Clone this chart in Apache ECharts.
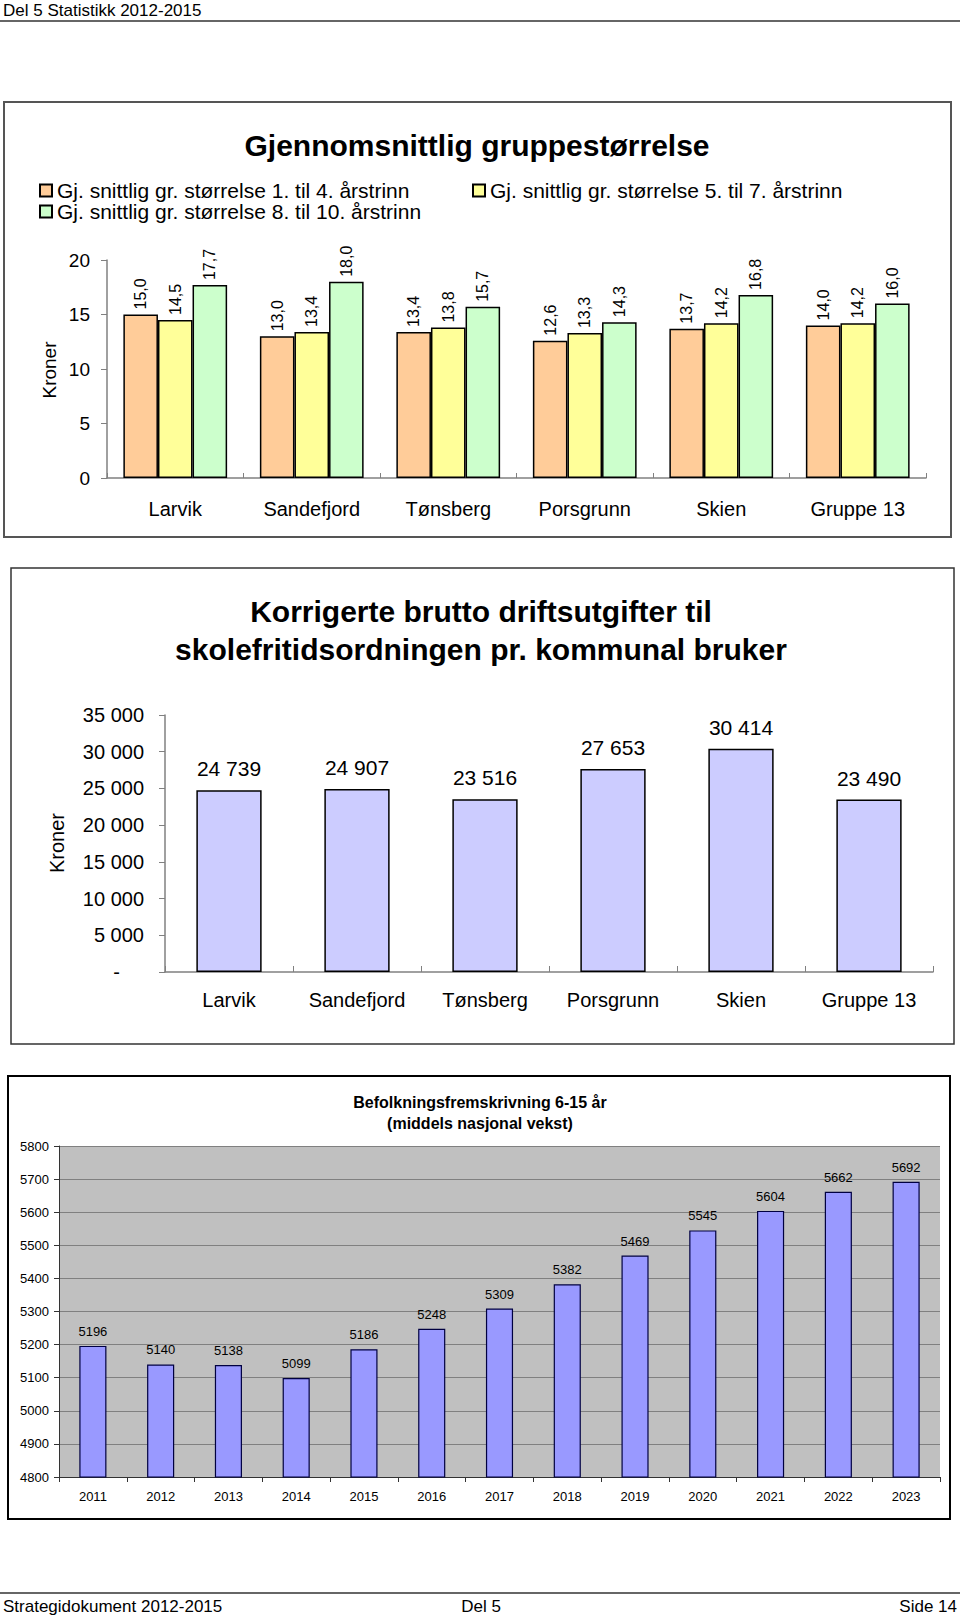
<!DOCTYPE html>
<html>
<head>
<meta charset="utf-8">
<script src="https://cdn.jsdelivr.net/npm/echarts@6/dist/echarts.min.js"></script>
<style>
html,body{margin:0;padding:0;background:#fff;}
#main{width:960px;height:1617px;}
</style>
</head>
<body>
<div id="main"></div>
<script>
// ---- data ----
const categories = ['Larvik', 'Sandefjord', 'Tønsberg', 'Porsgrunn', 'Skien', 'Gruppe 13'];
const seriesNames = [
  'Gj. snittlig gr. størrelse 1. til 4. årstrinn',
  'Gj. snittlig gr. størrelse 5. til 7. årstrinn',
  'Gj. snittlig gr. størrelse 8. til 10. årstrinn'
];
const grp1to4 = [15.0, 13.0, 13.4, 12.6, 13.7, 14.0];
const grp5to7 = [14.5, 13.4, 13.8, 13.3, 14.2, 14.2];
const grp8to10 = [17.7, 18.0, 15.7, 14.3, 16.8, 16.0];
const sfoCost = [24739, 24907, 23516, 27653, 30414, 23490];
const years = ['2011', '2012', '2013', '2014', '2015', '2016', '2017', '2018', '2019', '2020', '2021', '2022', '2023'];
const population = [5196, 5140, 5138, 5099, 5186, 5248, 5309, 5382, 5469, 5545, 5604, 5662, 5692];

const FONT = "'Liberation Sans', Arial, Helvetica, sans-serif";
const thousands = v => String(v).replace(/\B(?=(\d{3})+(?!\d))/g, ' ');
const comma1 = v => v.toFixed(1).replace('.', ',');

const chart = echarts.init(document.getElementById('main'), null, {renderer: 'svg'});

function txt(text, x, y, size, opts) {
  opts = opts || {};
  return {
    type: 'text', x: x, y: y, rotation: opts.rotation || 0, silent: true,
    style: {
      text: text, fill: '#000', font: (opts.bold ? 'bold ' : '') + size + 'px ' + FONT,
      align: opts.align || 'left', verticalAlign: 'middle'
    }
  };
}
function box(x, y, w, h, color, lw) {
  return {type: 'rect', silent: true, shape: {x: x, y: y, width: w, height: h},
    style: {fill: 'none', stroke: color, lineWidth: lw}};
}
function hline(x1, x2, y, color, lw) {
  return {type: 'line', silent: true, shape: {x1: x1, y1: y, x2: x2, y2: y},
    style: {stroke: color, lineWidth: lw}};
}

const colors1 = ['#FFCC99', '#FFFF99', '#CCFFCC'];
const groupData = [grp1to4, grp5to7, grp8to10];

const series = groupData.map((d, i) => ({
  name: seriesNames[i], type: 'bar', xAxisIndex: 0, yAxisIndex: 0,
  data: d, barGap: '0%', barCategoryGap: '24%',
  itemStyle: {color: colors1[i], borderColor: '#000', borderWidth: 1.5},
  label: {show: true, position: 'top', rotate: 90, align: 'left', verticalAlign: 'middle',
    distance: 5, fontSize: 16, fontFamily: FONT, color: '#000',
    formatter: p => comma1(p.value)},
  emphasis: {disabled: true}, animation: false
}));

series.push({
  name: 'sfo', type: 'bar', xAxisIndex: 1, yAxisIndex: 1, data: sfoCost,
  barCategoryGap: '49%',
  itemStyle: {color: '#CCCCFF', borderColor: '#000', borderWidth: 1.5},
  label: {show: true, position: 'top', distance: 11, fontSize: 21, fontFamily: FONT, color: '#000',
    formatter: p => thousands(p.value)},
  emphasis: {disabled: true}, animation: false
});

series.push({
  name: 'pop', type: 'bar', xAxisIndex: 2, yAxisIndex: 2, data: population,
  barCategoryGap: '60%',
  itemStyle: {color: '#9999FF', borderColor: '#000040', borderWidth: 1.2},
  label: {show: true, position: 'top', distance: 8, fontSize: 13, fontFamily: FONT, color: '#000',
    formatter: p => String(p.value)},
  emphasis: {disabled: true}, animation: false
});

function legendFor(name, left, top) {
  return {
    data: [name], left: left, top: top, padding: 0, itemWidth: 12, itemHeight: 12,
    icon: 'rect', selectedMode: false,
    textStyle: {fontSize: 21, fontFamily: FONT, color: '#000'}
  };
}

const option = {
  animation: false,
  textStyle: {fontFamily: FONT},
  legend: [
    legendFor(seriesNames[0], 39, 180),
    legendFor(seriesNames[1], 472, 180),
    legendFor(seriesNames[2], 39, 201)
  ],
  grid: [
    {left: 107, top: 260, width: 819, height: 218, containLabel: false},
    {left: 165, top: 715, width: 768, height: 257, containLabel: false},
    {left: 59, top: 1146, width: 881, height: 331, containLabel: false,
      show: true, backgroundColor: '#C0C0C0', borderWidth: 0}
  ],
  xAxis: [
    {gridIndex: 0, type: 'category', data: categories,
      axisLine: {lineStyle: {color: '#808080', width: 1.5}},
      axisTick: {show: true, inside: true, length: 5, lineStyle: {color: '#808080'}},
      axisLabel: {fontSize: 20, color: '#000', margin: 21, fontFamily: FONT, interval: 0}},
    {gridIndex: 1, type: 'category', data: categories,
      axisLine: {lineStyle: {color: '#808080', width: 1.5}},
      axisTick: {show: true, inside: true, length: 6, lineStyle: {color: '#808080'}},
      axisLabel: {fontSize: 20, color: '#000', margin: 18, fontFamily: FONT, interval: 0}},
    {gridIndex: 2, type: 'category', data: years,
      axisLine: {lineStyle: {color: '#333', width: 1}},
      axisTick: {show: true, inside: false, length: 5, lineStyle: {color: '#333'}},
      axisLabel: {fontSize: 13, color: '#000', margin: 13, fontFamily: FONT, interval: 0}}
  ],
  yAxis: [
    {gridIndex: 0, type: 'value', min: 0, max: 20, interval: 5,
      axisLine: {show: true, lineStyle: {color: '#808080', width: 1.5}},
      axisTick: {show: true, length: 6, lineStyle: {color: '#808080'}},
      splitLine: {show: false},
      axisLabel: {fontSize: 19, color: '#000', margin: 17, fontFamily: FONT}},
    {gridIndex: 1, type: 'value', min: 0, max: 35000, interval: 5000,
      axisLine: {show: true, lineStyle: {color: '#808080', width: 1.5}},
      axisTick: {show: true, length: 6, lineStyle: {color: '#808080'}},
      splitLine: {show: false},
      axisLabel: {fontSize: 20, color: '#000', margin: 21, fontFamily: FONT,
        formatter: v => v === 0 ? '{d|-}' : thousands(v),
        rich: {d: {fontSize: 20, fontFamily: FONT, color: '#000', padding: [0, 24, 0, 0]}}}},
    {gridIndex: 2, type: 'value', min: 4800, max: 5800, interval: 100,
      axisLine: {show: true, lineStyle: {color: '#333', width: 1}},
      axisTick: {show: true, length: 5, lineStyle: {color: '#333'}},
      splitLine: {show: true, lineStyle: {color: '#808080', width: 1}},
      axisLabel: {fontSize: 13, color: '#000', margin: 10, fontFamily: FONT,
        formatter: v => String(v)}}
  ],
  series: series,
  graphic: {elements: [
    // page header / footer
    txt('Del 5 Statistikk 2012-2015', 3, 10, 17),
    hline(0, 960, 21, '#666', 2),
    hline(0, 960, 1593, '#666', 2),
    txt('Strategidokument 2012-2015', 3, 1606, 17),
    txt('Del 5', 481, 1606, 17, {align: 'center'}),
    txt('Side 14', 957, 1606, 17, {align: 'right'}),
    // chart boxes
    box(4, 102, 947, 435, '#555', 2),
    box(11, 568, 943, 476, '#333', 1.5),
    box(8, 1076, 942, 443, '#000', 2),
    // titles
    txt('Gjennomsnittlig gruppestørrelse', 477, 145, 30, {align: 'center', bold: true}),
    txt('Korrigerte brutto driftsutgifter til', 481, 611, 30, {align: 'center', bold: true}),
    txt('skolefritidsordningen pr. kommunal bruker', 481, 649, 30, {align: 'center', bold: true}),
    txt('Befolkningsfremskrivning 6-15 år', 480, 1102, 16, {align: 'center', bold: true}),
    txt('(middels nasjonal vekst)', 480, 1123, 16, {align: 'center', bold: true}),
    // axis names
    txt('Kroner', 49, 370, 19, {align: 'center', rotation: Math.PI / 2}),
    txt('Kroner', 57, 843, 20, {align: 'center', rotation: Math.PI / 2})
  ]}
};
chart.setOption(option);
</script>
</body>
</html>
